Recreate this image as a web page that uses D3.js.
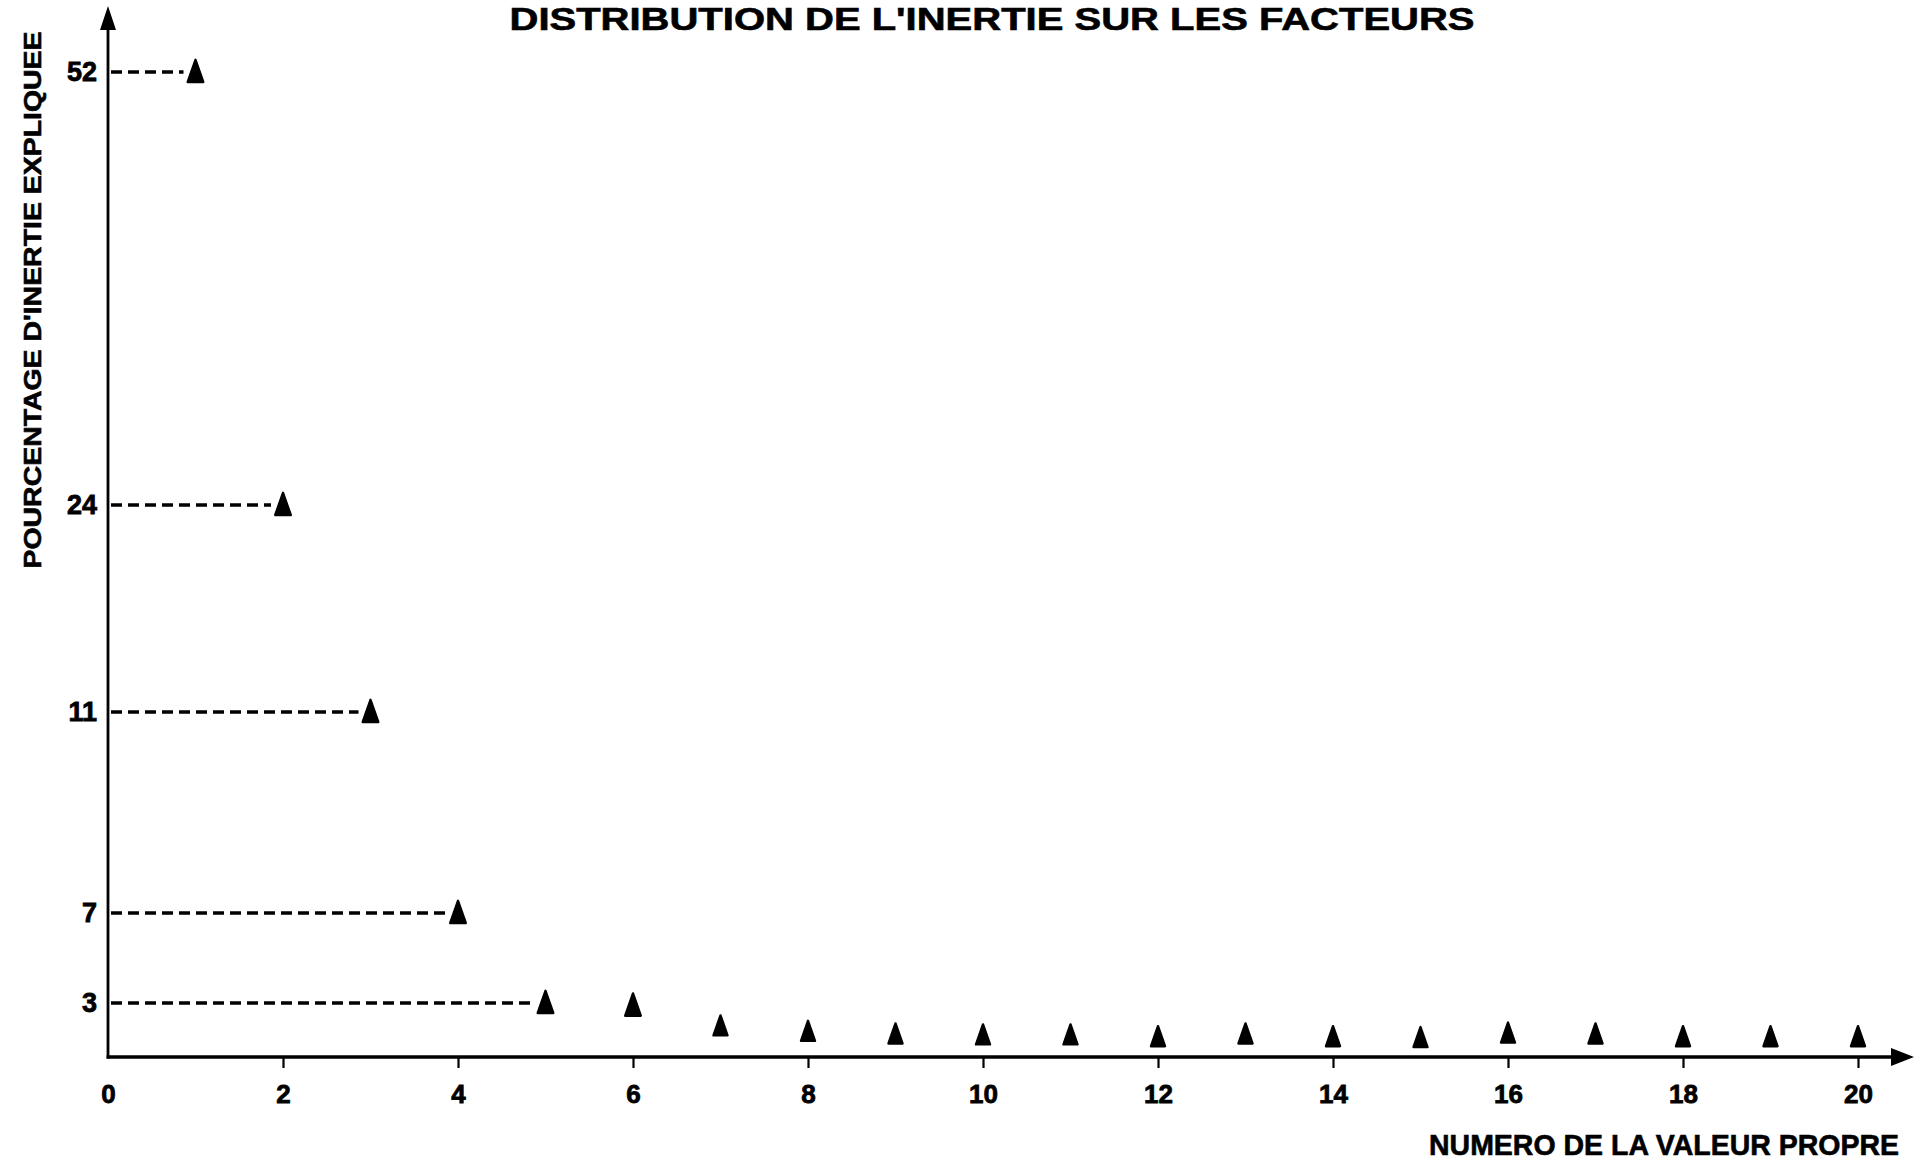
<!DOCTYPE html>
<html>
<head>
<meta charset="utf-8">
<script src="https://cdn.jsdelivr.net/npm/d3@7"></script>
<style>
  html, body { margin: 0; padding: 0; background: #fff; }
  svg { display: block; }
  text { font-family: "Liberation Sans", Arial, Helvetica, sans-serif; font-weight: bold; fill: #000; }
</style>
</head>
<body>
<svg id="chart" width="1927" height="1160"></svg>
<script>
// ---- data ----
const factorNumbers = [1,2,3,4,5,6,7,8,9,10,11,12,13,14,15,16,17,18,19,20];
const inertiaPercent = [52,24,11,7,3,2.85,1.7,1.4,1.25,1.2,1.2,1.1,1.25,1.1,1.05,1.3,1.25,1.1,1.1,1.1];
const yTickValues = [3,7,11,24,52];
const xTickValues = [0,2,4,6,8,10,12,14,16,18,20];
const guidedCount = 5; // first factors carry a dashed guide to the y axis
const title = "DISTRIBUTION DE L'INERTIE SUR LES FACTEURS";
const yTitle = "POURCENTAGE D'INERTIE EXPLIQUEE";
const xTitle = "NUMERO DE LA VALEUR PROPRE";

const svg = d3.select("#chart");

// ---- scales (the vertical axis of the original is not linear: piecewise) ----
const x = d3.scaleLinear().domain([0, 20]).range([108, 1858]);
const y = d3.scaleLinear().domain([0, 3, 7, 11, 24, 52]).range([1057, 1003, 913, 712, 505, 72]);

// ---- title ----
svg.append("text")
  .attr("x", 992).attr("y", 30)
  .attr("text-anchor", "middle")
  .attr("font-size", 31)
  .attr("stroke", "#000").attr("stroke-width", 0.6)
  .attr("textLength", 965).attr("lengthAdjust", "spacingAndGlyphs")
  .text(title);

// ---- axis lines with arrows ----
const x0 = x(0), yb = y(0);
svg.append("line").attr("x1", x0).attr("y1", yb + 1.5).attr("x2", x0).attr("y2", 24)
  .attr("stroke", "#000").attr("stroke-width", 2.8);
svg.append("path").attr("d", `M${x0},6 L${x0 + 8},30 L${x0 - 8},30 Z`).attr("fill", "#000");

svg.append("line").attr("x1", x0 - 1.4).attr("y1", yb).attr("x2", 1898).attr("y2", yb)
  .attr("stroke", "#000").attr("stroke-width", 3.4);
svg.append("path").attr("d", `M1914,${yb} L1891,${yb - 9} L1891,${yb + 9} Z`).attr("fill", "#000");

// ---- x axis ticks and labels ----
const gx = svg.append("g").attr("transform", `translate(0,${yb})`)
  .call(d3.axisBottom(x).tickValues(xTickValues).tickSize(11).tickPadding(17).tickFormat(d3.format("d")));
gx.select(".domain").remove();
gx.selectAll(".tick line").attr("stroke", "#000").attr("stroke-width", 2.2)
  .attr("display", d => d === 0 ? "none" : null);
gx.selectAll(".tick text").attr("font-size", 26).attr("font-family", null).attr("fill", "#000")
  .attr("stroke", "#000").attr("stroke-width", 0.8);

// ---- y axis labels ----
const gy = svg.append("g").attr("transform", `translate(${x0},0)`)
  .call(d3.axisLeft(y).tickValues(yTickValues).tickSize(0).tickPadding(11).tickFormat(d3.format("d")));
gy.select(".domain").remove();
gy.selectAll(".tick text").attr("font-size", 27).attr("font-family", null).attr("fill", "#000")
  .attr("stroke", "#000").attr("stroke-width", 0.8);

// ---- axis titles ----
svg.append("text")
  .attr("transform", `translate(33,300) rotate(-90)`)
  .attr("text-anchor", "middle").attr("dy", "0.35em")
  .attr("font-size", 24)
  .attr("stroke", "#000").attr("stroke-width", 0.6)
  .attr("textLength", 537).attr("lengthAdjust", "spacingAndGlyphs")
  .text(yTitle);

svg.append("text")
  .attr("x", 1429).attr("y", 1155)
  .attr("font-size", 29)
  .attr("stroke", "#000").attr("stroke-width", 0.6)
  .attr("textLength", 470).attr("lengthAdjust", "spacingAndGlyphs")
  .text(xTitle);

// ---- data ----
const points = factorNumbers.map((f, i) => ({ f, v: inertiaPercent[i], i }));

// dashed guides
svg.append("g").selectAll("line")
  .data(points.filter(d => d.i < guidedCount))
  .join("line")
  .attr("x1", x0 + 3).attr("x2", d => x(d.f) - 12)
  .attr("y1", d => y(d.v)).attr("y2", d => y(d.v))
  .attr("stroke", "#000").attr("stroke-width", 3.4)
  .attr("stroke-dasharray", "11,6");

// triangle markers
const tallTriangle = {
  draw(ctx, size) {
    const s = Math.sqrt(size / 150);
    ctx.moveTo(0, -11 * s);
    ctx.lineTo(7 * s, 9 * s);
    ctx.lineTo(-7 * s, 9 * s);
    ctx.closePath();
  }
};
svg.append("g").selectAll("path")
  .data(points)
  .join("path")
  .attr("transform", d => `translate(${x(d.f)},${y(d.v)})`)
  .attr("d", d => d3.symbol().type(tallTriangle).size(d.i < 6 ? 185 : 150)())
  .attr("fill", "#000").attr("stroke", "#000").attr("stroke-width", 2.4)
  .attr("stroke-linejoin", "round");
</script>
</body>
</html>
